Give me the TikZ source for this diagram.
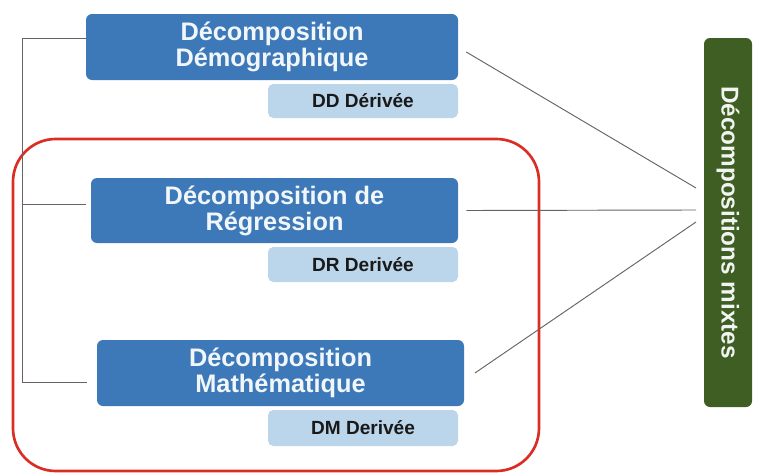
\documentclass[tikz,border=0pt]{standalone}
\usepackage{fontspec}
\setmainfont{Liberation Sans}
\definecolor{boxblue}{RGB}{61,121,184}
\definecolor{subblue}{RGB}{187,213,234}
\definecolor{mixgreen}{RGB}{62,94,35}
\definecolor{framered}{RGB}{218,45,35}
\definecolor{linegray}{RGB}{105,98,95}

\begin{document}
\begin{tikzpicture}[x=0.75pt,y=-0.75pt,
  decomp/.style={fill=boxblue, text=white!93!boxblue, rounded corners=4.5pt, align=center, inner sep=0pt,
    font=\fontsize{19}{19.5}\selectfont\bfseries},
  derived/.style={fill=subblue, text=black!90, rounded corners=4pt, minimum width=142.5pt, inner sep=0pt,
    font=\fontsize{14.3}{16}\selectfont\bfseries},
  conn/.style={draw=linegray, line width=0.7pt}]

\useasboundingbox (0,0) rectangle (758,475);
\draw[framered, line width=2pt, rounded corners=32pt] (13,139) rectangle (539,471);

\node[decomp, minimum width=279pt, minimum height=49.5pt] (dd) at (272,47) {Décomposition\\Démographique};
\node[derived, minimum height=25.5pt] (ddv) at (363,101) {DD Dérivée};
\node[decomp, minimum width=275.25pt, minimum height=48.75pt] (dr) at (274.5,210.5) {Décomposition de\\Régression};
\node[derived, minimum height=26.25pt] (drv) at (363,264.5) {DR Derivée};
\node[decomp, minimum width=275.25pt, minimum height=49.5pt] (dm) at (280.5,373) {Décomposition\\Mathématique};
\node[derived, minimum height=27pt] (dmv) at (363,428) {DM Derivée};

\node[fill=mixgreen, text=white!93!mixgreen, rounded corners=4.5pt, rotate=-90, minimum width=276.75pt,
  minimum height=36pt, inner sep=0pt, font=\fontsize{18.2}{21}\selectfont\bfseries] (mix) at (728,222.5) {Décompositions mixtes};

% bracket on the left
\coordinate (brk) at (22,38);
\draw[conn] ([yshift=6.75pt]dd.west) -- (brk) |- ([xshift=-7.5pt,yshift=-6.75pt]dm.west);
\draw[conn] ([xshift=-3.75pt,yshift=4.9pt]dr.west) -- ++(-64,0);

% lines to the mixed box
\coordinate (mx1) at (696,188);
\coordinate (mx2) at (696,210);
\coordinate (mx3) at (696,222);
\draw[conn] ([xshift=6pt,yshift=-3.75pt]dd.east) -- (mx1);
\draw[conn] ([xshift=6pt]dr.east) -- (mx2);
\draw[conn] ([xshift=8pt]dm.east) -- (mx3);
\end{tikzpicture}
\end{document}
